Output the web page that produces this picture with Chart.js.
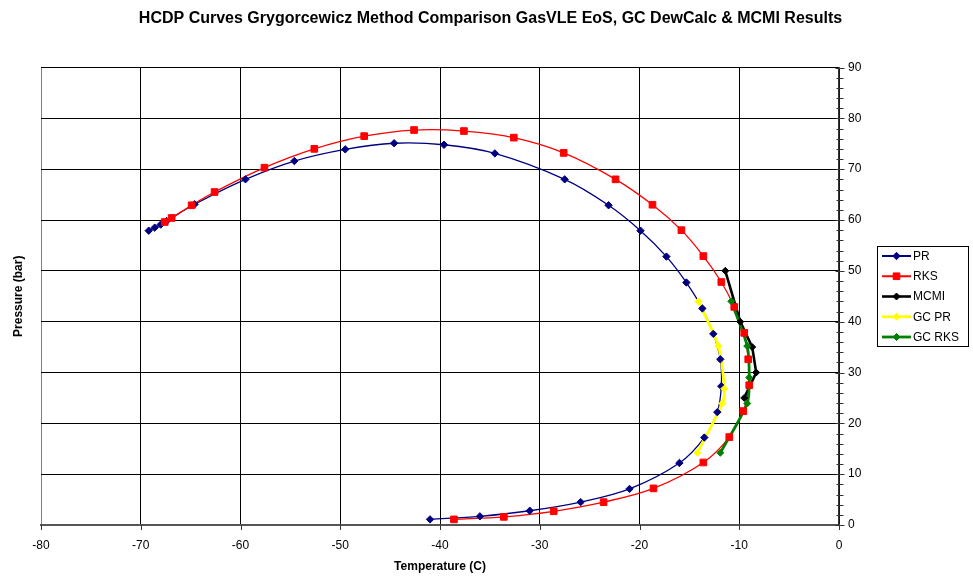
<!DOCTYPE html>
<html>
<head>
<meta charset="utf-8">
<title>HCDP Curves</title>
<script src="https://cdn.jsdelivr.net/npm/chart.js@4.4.1/dist/chart.umd.min.js"></script>
<style>
  html, body { margin: 0; padding: 0; background: #fff; }
</style>
</head>
<body>
<canvas id="hcdpChart" width="973" height="580"></canvas>
<script>
// Dew point curves: temperature (C) vs pressure (bar)
const prTemp = [-41.0, -36.0, -31.0, -25.9, -21.0, -16.0, -13.5, -12.2, -11.8, -11.9, -12.6, -13.7, -15.3, -17.3,
  -19.9, -23.1, -27.5, -34.5, -39.6, -44.6, -49.5, -54.6, -59.5, -64.6, -67.4, -68.0, -68.6, -69.2];
const prPres = [1.1, 1.7, 2.8, 4.5, 7.1, 12.2, 17.2, 22.2, 27.3, 32.6, 37.6, 42.6, 47.7, 52.8,
  57.9, 62.9, 68.0, 73.1, 74.8, 75.1, 73.9, 71.6, 68.0, 63.1, 59.8, 59.1, 58.5, 57.9];

const rksTemp = [-38.6, -33.6, -28.6, -23.6, -18.6, -13.6, -11.0, -9.6, -9.0, -9.1, -9.5, -10.5, -11.8, -13.6,
  -15.8, -18.7, -22.4, -27.6, -32.6, -37.6, -42.6, -47.6, -52.6, -57.6, -62.6, -64.9, -66.9, -67.6];
const rksPres = [1.1, 1.6, 2.7, 4.5, 7.2, 12.3, 17.3, 22.4, 27.5, 32.6, 37.8, 42.9, 47.8, 52.9,
  58.0, 63.0, 68.0, 73.2, 76.2, 77.5, 77.7, 76.5, 74.0, 70.3, 65.5, 62.9, 60.4, 59.6];

const mcmiTemp = [-11.4, -9.9, -8.7, -8.3, -9.5];
const mcmiPres = [50.0, 40.0, 35.0, 30.0, 25.0];

const gcPrTemp = [-14.1, -12.1, -11.5, -11.7, -14.2];
const gcPrPres = [44.0, 35.2, 26.8, 23.9, 14.2];

const gcRksTemp = [-10.8, -9.2, -9.0, -9.2, -11.9];
const gcRksPres = [44.0, 35.2, 29.0, 23.9, 14.2];

const xTicks = { min: -80, max: 0, step: 10 };
const yTicks = { min: 0, max: 90, step: 10, minor: 2 };

const FONT = 'Arial, "Liberation Sans", Helvetica, sans-serif';

const toPoints = (xs, ys) => xs.map((x, i) => ({ x, y: ys[i] }));

// each series = a line dataset (drawn first) + a marker dataset (drawn over all lines)
const seriesDefs = [
  { label: 'PR', xs: prTemp, ys: prPres, color: '#000080', lineWidth: 1.3, tension: 0.35, pointStyle: 'rectRot', radius: 3.7 },
  { label: 'RKS', xs: rksTemp, ys: rksPres, color: '#ff0000', lineWidth: 1.3, tension: 0.35, pointStyle: 'rect', radius: 4.7 },
  { label: 'MCMI', xs: mcmiTemp, ys: mcmiPres, color: '#000000', lineWidth: 2.6, tension: 0, pointStyle: 'rectRot', radius: 3.5 },
  { label: 'GC PR', xs: gcPrTemp, ys: gcPrPres, color: '#ffff00', lineWidth: 2.8, tension: 0.25, pointStyle: 'rectRot', radius: 3.5 },
  { label: 'GC RKS', xs: gcRksTemp, ys: gcRksPres, color: '#008000', lineWidth: 2.8, tension: 0.25, pointStyle: 'rectRot', radius: 3.5 },
];

const lineSets = seriesDefs.map((s, i) => ({
  label: s.label,
  data: toPoints(s.xs, s.ys),
  showLine: true,
  borderColor: s.color,
  backgroundColor: s.color,
  borderWidth: s.lineWidth,
  tension: s.tension,
  pointRadius: 0,
  pointHoverRadius: 0,
  order: 20 - i,
}));

const markerSets = seriesDefs.map((s, i) => ({
  label: s.label,
  data: toPoints(s.xs, s.ys),
  showLine: false,
  pointStyle: s.pointStyle,
  pointRadius: s.radius,
  pointHoverRadius: s.radius + 1,
  pointBackgroundColor: s.color,
  pointBorderColor: s.color,
  pointBorderWidth: 1,
  order: 10 - i,
  isMarker: true,
}));

// tick marks crossing the axes + boxed legend with line/marker samples
const axisDecor = {
  id: 'axisDecor',
  afterDraw(chart) {
    const { ctx, scales: { x, y } } = chart;
    ctx.save();
    ctx.strokeStyle = '#333';
    ctx.lineWidth = 1;
    const ax = Math.round(y.left) + 0.5;
    for (let v = yTicks.min; v <= yTicks.max; v += yTicks.minor) {
      const py = Math.round(y.getPixelForValue(v)) + 0.5;
      const len = v % yTicks.step === 0 ? 4 : 3;
      ctx.beginPath();
      ctx.moveTo(ax - len, py);
      ctx.lineTo(ax + len + 1, py);
      ctx.stroke();
    }
    const by = Math.round(x.top);
    for (let v = xTicks.min; v <= xTicks.max; v += xTicks.step) {
      const px = Math.round(x.getPixelForValue(v)) + 0.5;
      ctx.beginPath();
      ctx.moveTo(px, by);
      ctx.lineTo(px, by + 5);
      ctx.stroke();
    }

    // legend
    const lx = 877.5, ly = 246.5, lw = 91, lh = 100;
    ctx.strokeStyle = '#000';
    ctx.lineWidth = 1;
    ctx.strokeRect(lx, ly, lw, lh);
    ctx.font = '12px ' + FONT;
    ctx.textBaseline = 'middle';
    ctx.textAlign = 'left';
    seriesDefs.forEach((s, i) => {
      const cy = 256 + i * 20.25;
      ctx.strokeStyle = s.color;
      ctx.lineWidth = Math.max(s.lineWidth, 2);
      ctx.beginPath();
      ctx.moveTo(882, cy);
      ctx.lineTo(911, cy);
      ctx.stroke();
      ctx.fillStyle = s.color;
      ctx.strokeStyle = s.color;
      ctx.lineWidth = 1;
      Chart.helpers.drawPoint(ctx, { pointStyle: s.pointStyle, radius: s.radius, rotation: 0, borderWidth: 1 }, 896.5, cy);
      ctx.fillStyle = '#000';
      ctx.fillText(s.label, 913, cy + 0.5);
    });
    ctx.restore();
  },
};

new Chart(document.getElementById('hcdpChart'), {
  type: 'scatter',
  data: { datasets: [...lineSets, ...markerSets] },
  plugins: [axisDecor],
  options: {
    responsive: false,
    devicePixelRatio: 1,
    animation: false,
    layout: { padding: { left: 8, right: 0, top: 0, bottom: 0 } },
    plugins: {
      legend: { display: false },
      tooltip: {
        filter: (item) => item.dataset.isMarker === true,
        callbacks: { label: (c) => `${c.dataset.label}: ${c.parsed.x} C, ${c.parsed.y} bar` },
      },
      title: {
        display: true,
        text: 'HCDP Curves Grygorcewicz Method Comparison GasVLE EoS, GC DewCalc & MCMI Results',
        color: '#000',
        font: { family: FONT, size: 16, weight: 'bold' },
        padding: { top: 9, bottom: 39.3 },
      },
    },
    scales: {
      x: {
        type: 'linear',
        position: 'bottom',
        min: xTicks.min,
        max: xTicks.max,
        afterFit: (s) => { s.height = 55; },
        ticks: { stepSize: xTicks.step, color: '#000', padding: 13, font: { family: FONT, size: 12 } },
        grid: {
          drawTicks: false,
          lineWidth: 1,
          color: (c) => (c.tick && c.tick.value === xTicks.min ? '#808080' : '#000'),
        },
        border: { display: true, color: '#555', width: 2 },
        title: {
          display: true,
          text: 'Temperature (C)',
          color: '#000',
          font: { family: FONT, size: 12, weight: 'bold' },
          padding: { top: 0, bottom: 6 },
        },
      },
      y: {
        type: 'linear',
        position: 'right',
        min: yTicks.min,
        max: yTicks.max,
        afterFit: (s) => { s.width = 134; },
        ticks: { stepSize: yTicks.step, color: '#000', padding: 9, font: { family: FONT, size: 12 } },
        grid: { drawTicks: false, lineWidth: 1, color: '#000' },
        border: { display: true, color: '#333', width: 1.5 },
      },
      yTitle: {
        type: 'linear',
        position: 'left',
        min: yTicks.min,
        max: yTicks.max,
        afterFit: (s) => { s.width = 33; },
        ticks: { display: false },
        grid: { display: false, drawTicks: false },
        border: { display: false },
        title: {
          display: true,
          text: 'Pressure (bar)',
          color: '#000',
          font: { family: FONT, size: 12, weight: 'bold' },
          padding: { top: 3, bottom: 0 },
        },
      },
    },
  },
});
</script>
</body>
</html>
